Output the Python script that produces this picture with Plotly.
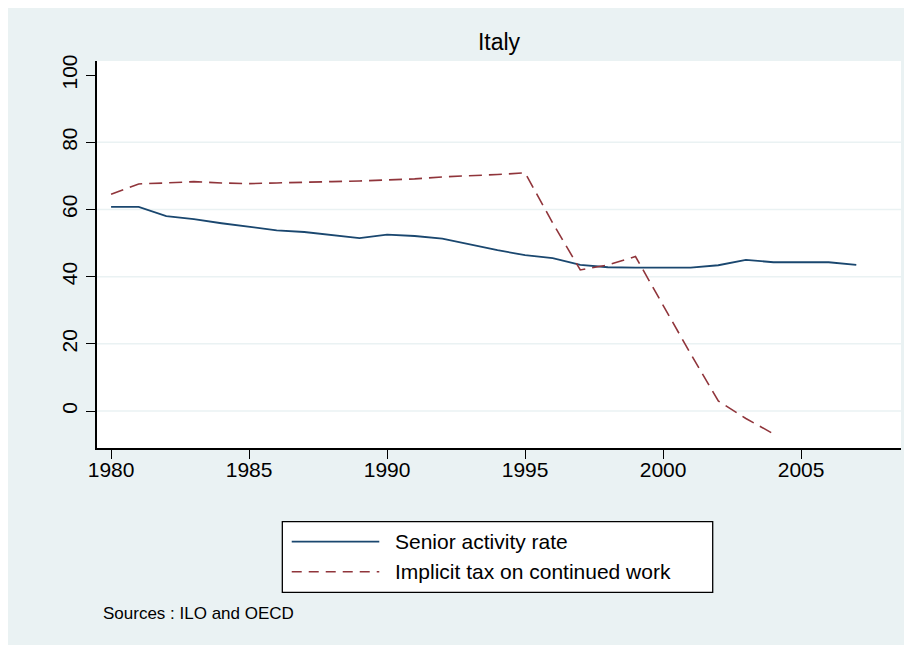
import plotly.graph_objects as go

# ---- data ----
years_senior = list(range(1980, 2008))
senior_activity = [60.8, 60.8, 58.0, 57.1, 55.9, 54.9, 53.8, 53.3, 52.5, 51.5,
                   52.5, 52.1, 51.3, 49.5, 47.9, 46.4, 45.5, 43.5, 42.8, 42.7,
                   42.7, 42.7, 43.4, 45.0, 44.3, 44.3, 44.3, 43.5]
years_tax = list(range(1980, 2005))
implicit_tax = [64.5, 67.6, 67.9, 68.3, 67.9, 67.7, 67.9, 68.0, 68.3, 68.5,
                68.8, 69.1, 69.7, 70.0, 70.4, 70.9, 56.0, 42.0, 43.5, 46.0,
                31.5, 17.0, 3.0, -2.2, -6.8]
x_ticks = [1980, 1985, 1990, 1995, 2000, 2005]
y_ticks = [0, 20, 40, 60, 80, 100]
grid_values = [0, 20, 40, 60, 80]
series_names = ["Senior activity rate", "Implicit tax on continued work"]
title_text = "Italy"
source_text = "Sources : ILO and OECD"

NAVY = "#1a476f"
MAROON = "#90353b"
BG = "#EAF2F3"
FONT = "Liberation Sans, Arial, sans-serif"

fig = go.Figure()

shapes = [
    # outer light background
    dict(type="rect", xref="paper", yref="paper", x0=-0.1132, x1=1.03,
         y0=-0.54, y1=1.1447, fillcolor=BG, line=dict(width=0), layer="below"),
    # plot area white
    dict(type="rect", xref="paper", yref="paper", x0=0, x1=1, y0=0, y1=1,
         fillcolor="white", line=dict(width=0), layer="below"),
]
# horizontal gridlines (none at 100, as in the original)
for g in grid_values:
    shapes.append(dict(type="line", xref="paper", yref="y", x0=0, x1=1, y0=g, y1=g,
                       line=dict(color=BG, width=1.5), layer="below"))
shapes += [
    # legend box
    dict(type="rect", xref="paper", yref="paper", x0=0.2305, x1=0.7658,
         y0=-0.3729, y1=-0.1904, fillcolor="white",
         line=dict(color="black", width=1.3), layer="above"),
    dict(type="line", xref="paper", yref="paper", x0=0.2422, x1=0.3511,
         y0=-0.2421, y1=-0.2421, line=dict(color=NAVY, width=1.8), layer="above"),
    dict(type="line", xref="paper", yref="paper", x0=0.2422, x1=0.3511,
         y0=-0.3196, y1=-0.3196, line=dict(color=MAROON, width=1.6, dash="10px,7px"),
         layer="above"),
]

fig.add_trace(go.Scatter(x=years_senior, y=senior_activity, mode="lines",
                         name=series_names[0],
                         line=dict(color=NAVY, width=1.8)))
fig.add_trace(go.Scatter(x=years_tax, y=implicit_tax, mode="lines",
                         name=series_names[1],
                         line=dict(color=MAROON, width=1.6, dash="13px,7px")))

annotations = [
    dict(text=series_names[0], xref="paper", yref="paper", x=0.3685, y=-0.2421,
         xanchor="left", yanchor="middle", showarrow=False,
         font=dict(family=FONT, size=21, color="black")),
    dict(text=series_names[1], xref="paper", yref="paper", x=0.3685, y=-0.3196,
         xanchor="left", yanchor="middle", showarrow=False,
         font=dict(family=FONT, size=21, color="black")),
    dict(text=source_text, xref="paper", yref="paper", x=0.005, y=-0.4264,
         xanchor="left", yanchor="middle", showarrow=False,
         font=dict(family=FONT, size=17, color="black")),
]

fig.update_layout(
    width=912, height=645,
    margin=dict(l=89, r=19, t=53, b=205),
    paper_bgcolor="white", plot_bgcolor="white",
    showlegend=False,
    title=dict(text=title_text, x=0.5, xref="paper", y=1 - 34 / 645,
               yref="container", xanchor="center", yanchor="middle",
               font=dict(family=FONT, size=23, color="black")),
    font=dict(family=FONT, color="black"),
    shapes=shapes,
    annotations=annotations,
    xaxis=dict(range=[1979.49, 2008.62], tickvals=x_ticks, ticks="outside",
               ticklen=9, tickwidth=1.3, tickcolor="black",
               ticklabelstandoff=-7,
               showline=True, linecolor="black", linewidth=1.5,
               showgrid=False, zeroline=False,
               tickfont=dict(family=FONT, size=21, color="black")),
    yaxis=dict(range=[-11, 104.2], tickvals=y_ticks, ticks="outside",
               ticklen=9, tickwidth=1.3, tickcolor="black", tickangle=-90,
               ticklabelstandoff=1,
               showline=True, linecolor="black", linewidth=1.5,
               showgrid=False, zeroline=False,
               tickfont=dict(family=FONT, size=21, color="black")),
)

fig.write_html("out.html")
